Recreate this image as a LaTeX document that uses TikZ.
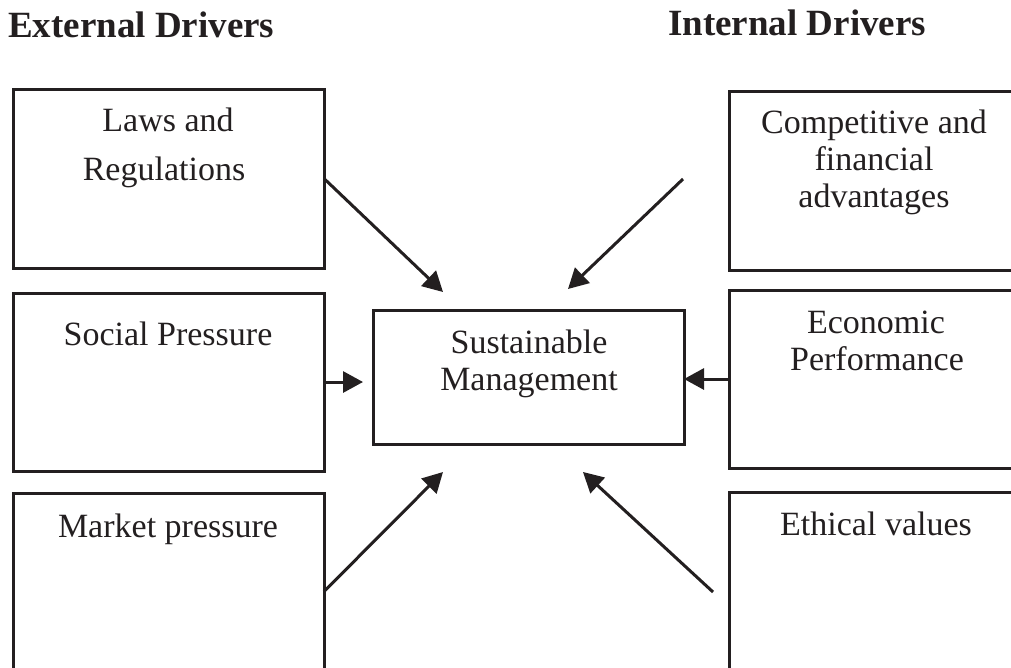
\documentclass[tikz,border=0pt]{standalone}
\usepackage{fontspec}
\setmainfont{Liberation Serif}
\usetikzlibrary{arrows.meta}
\definecolor{ink}{HTML}{231F20}
\begin{document}
\begin{tikzpicture}[x=1pt,y=-1pt,
  box/.style={draw=ink, line width=3pt, rectangle, inner sep=0pt, outer sep=0pt, minimum width=311pt},
  txt/.style={anchor=base, inner sep=0pt, text=ink, font=\fontsize{34pt}{37pt}\selectfont},
  head/.style={anchor=base west, inner sep=0pt, text=ink, font=\bfseries\fontsize{37pt}{40pt}\selectfont},
  arr/.style={draw=ink, line width=3pt, -{Triangle[length=20pt,width=21pt]}}]
\useasboundingbox (0,0) rectangle (1011,667);
\clip (0,0) rectangle (1011,667);
% headings
\node[head] (hext) at (8,37) {External Drivers};
\node[head] (hint) at (668,35) {Internal Drivers};
% boxes
\node[box, minimum height=179pt] (lt) at (168.5,178.5) {};
\node[box, minimum height=178pt] (lm) at (168.5,382) {};
\node[box, minimum height=197pt] (lb) at (168.5,591.5) {};
\node[box, minimum height=179pt] (rt) at (884.5,180.5) {};
\node[box, minimum height=178pt] (rm) at (884.5,379) {};
\node[box, minimum height=198pt] (rb) at (884.5,591) {};
\node[box, minimum height=134pt] (sm) at (528.5,377) {};
% texts
\node[txt] (lt1) at (168,131) {Laws and};
\node[txt] (lt2) at (164,180) {Regulations};
\node[txt] (lm1) at (168,345) {Social Pressure};
\node[txt] (lb1) at (168,537) {Market pressure};
\node[txt] (rt1) at (874,133) {Competitive and};
\node[txt] (rt2) at (874,170) {financial};
\node[txt] (rt3) at (874,207) {advantages};
\node[txt] (rm1) at (876,333) {Economic};
\node[txt] (rm2) at (877,370) {Performance};
\node[txt] (rb1) at (876,535) {Ethical values};
\node[txt] (sm1) at (529,353) {Sustainable};
\node[txt] (sm2) at (529,390) {Management};
% free arrow ends
\coordinate (a1e) at (443,292);
\coordinate (a2s) at (683,179);
\coordinate (a2e) at (568,289);
\coordinate (a3e) at (443,472);
\coordinate (a4s) at (713,592);
\coordinate (a4e) at (583,472);
\coordinate (a5e) at (363,382);
% connectors
\draw[arr] (lt.east) -- (a1e);
\draw[arr] (a2s) -- (a2e);
\draw[arr] (lb.east) -- (a3e);
\draw[arr] (a4s) -- (a4e);
\draw[arr] (lm.east) -- (a5e);
\draw[arr] (rm.west) -- (sm.east |- rm.west);
\end{tikzpicture}
\end{document}
